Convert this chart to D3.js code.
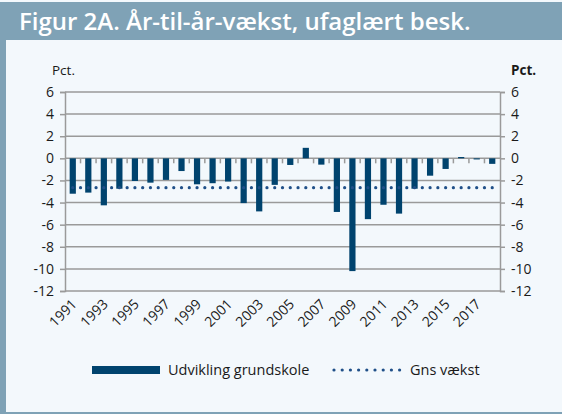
<!DOCTYPE html>
<html><head><meta charset="utf-8">
<script src="https://cdn.jsdelivr.net/npm/d3@7"></script>
<style>
html,body{margin:0;padding:0;background:#f3f8fc;}
svg{display:block;font-family:"Open Sans",Lato,sans-serif;}
</style></head>
<body><svg id="c" width="562" height="414"></svg>
<script>
const years = d3.range(1991, 2019).map(String);
const growth = [-3.2,-3.1,-4.25,-2.75,-2.05,-2.2,-1.95,-1.15,-2.35,-2.25,-2.1,-4.05,-4.8,-2.4,-0.6,0.95,-0.57,-4.85,-10.2,-5.5,-4.2,-5.0,-2.75,-1.57,-0.96,0.12,-0.1,-0.5];
const avgGrowth = -2.65;
const yTicks = [6,4,2,0,-2,-4,-6,-8,-10,-12];
const xLabels = years.filter((d,i)=>i%2===0);
const title = "Figur 2A. År-til-år-vækst, ufaglært besk.";
const seriesNames = ["Udvikling grundskole","Gns vækst"];

const svg = d3.select("#c");
const W=562,H=414;
const pL=65,pR=500,pT=92,pB=291;
const barColor="#00436e", dotColor="#1f4f88", gridColor="#9a9a9a", frame="#7fa2b6";

svg.append("rect").attr("width",W).attr("height",H).attr("fill","#f3f8fc");
svg.append("rect").attr("x",0).attr("y",2).attr("width",W).attr("height",38).attr("fill",frame);
svg.append("rect").attr("x",0).attr("y",2).attr("width",6).attr("height",H-2).attr("fill",frame);
svg.append("rect").attr("x",0).attr("y",H-2).attr("width",W).attr("height",2).attr("fill",frame);
svg.append("text").attr("x",19).attr("y",30).attr("fill","#fff").attr("font-size",24).attr("font-weight",600).text(title);

const x = d3.scaleBand().domain(years).range([pL,pR]).paddingInner(0.6).paddingOuter(0.3);
const xb = d3.scaleBand().domain(years).range([pL,pR]);
const y = d3.scaleLinear().domain([-12,6]).range([pB,pT]);

// gridlines
svg.append("g").selectAll("line").data(yTicks).join("line")
  .attr("x1",pL).attr("x2",pR).attr("y1",d=>y(d)).attr("y2",d=>y(d))
  .attr("stroke",gridColor).attr("stroke-width",1.5);

// axes
const fmt = d=>d<0?"-"+Math.abs(d):String(d);
const yl = svg.append("g").attr("transform",`translate(${pL},0)`).call(d3.axisLeft(y).tickValues(yTicks).tickSize(5).tickPadding(6).tickFormat(fmt));
const yr = svg.append("g").attr("transform",`translate(${pR},0)`).call(d3.axisRight(y).tickValues(yTicks).tickSize(5).tickPadding(6).tickFormat(fmt));
[yl,yr].forEach(g=>{g.select(".domain").attr("stroke",gridColor).attr("stroke-width",1.5);
  g.selectAll(".tick line").attr("stroke",gridColor).attr("stroke-width",1.5);
  g.selectAll("text").attr("font-size",14).attr("fill","#1a1a1a").attr("font-family","Open Sans, sans-serif");});

// category ticks at zero line
svg.append("g").selectAll("line").data(years.slice(1)).join("line")
  .attr("x1",d=>xb(d)).attr("x2",d=>xb(d)).attr("y1",y(0)).attr("y2",y(0)+5)
  .attr("stroke",gridColor).attr("stroke-width",1.5);

// bars
svg.append("g").selectAll("rect").data(years).join("rect")
  .attr("x",d=>x(d)).attr("width",x.bandwidth())
  .attr("y",(d,i)=>y(Math.max(0,growth[i]))).attr("height",(d,i)=>Math.abs(y(growth[i])-y(0)))
  .attr("fill",barColor);

// average dotted line
const xs = years.map(d=>xb(d)+xb.bandwidth()/2);
const dots=[];
for(let i=0;i<xs.length;i++){dots.push(xs[i]); if(i<xs.length-1) dots.push((xs[i]+xs[i+1])/2);}
svg.append("g").selectAll("circle").data(dots).join("circle")
  .attr("cx",d=>d).attr("cy",y(avgGrowth)).attr("r",1.6).attr("fill",dotColor);

// x labels
svg.append("g").selectAll("text").data(xLabels).join("text")
  .attr("transform",d=>`translate(${xb(d)+xb.bandwidth()/2+5},${pB+14}) rotate(-45)`)
  .attr("text-anchor","end").attr("font-size",14).attr("fill","#1a1a1a").text(d=>d);

// Pct labels
svg.append("text").attr("x",52).attr("y",75).attr("font-size",13.5).attr("fill","#1a1a1a").text("Pct.");
svg.append("text").attr("x",511).attr("y",75).attr("font-size",13.5).attr("font-weight",700).attr("fill","#1a1a1a").text("Pct.");

// legend
svg.append("rect").attr("x",92).attr("y",366).attr("width",68).attr("height",8).attr("fill",barColor);
svg.append("text").attr("x",168).attr("y",375).attr("font-size",14.5).attr("fill","#1a1a1a").text(seriesNames[0]);
svg.append("g").selectAll("circle").data(d3.range(9)).join("circle")
  .attr("cx",d=>334+d*8.2).attr("cy",370).attr("r",1.6).attr("fill",dotColor);
svg.append("text").attr("x",410).attr("y",375).attr("font-size",14.5).attr("fill","#1a1a1a").text(seriesNames[1]);
</script></body></html>
